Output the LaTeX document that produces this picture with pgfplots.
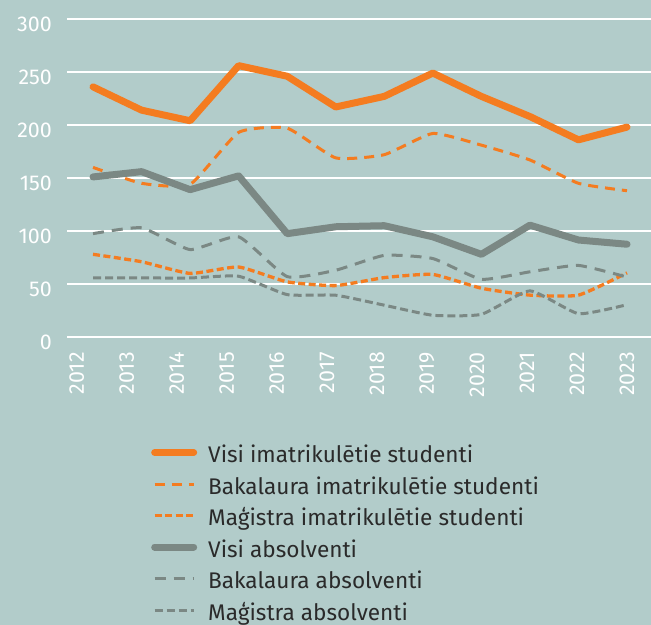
\documentclass[border=0pt]{standalone}
\usepackage{pgfplots}
\pgfplotsset{compat=1.18}
\usepackage{fontspec}
\setmainfont{Fira Sans}
\definecolor{bgc}{HTML}{B2CCCA}
\definecolor{oran}{HTML}{F47C20}
\definecolor{gre}{HTML}{7B8884}
\definecolor{txt}{HTML}{2A2A2A}
\begin{document}
\begin{tikzpicture}
\fill[bgc] (0,0) rectangle (651bp,625bp);
\begin{axis}[
  at={(67bp,288bp)}, anchor=south west,
  scale only axis, width=584bp, height=318bp,
  xmin=2011.464, xmax=2023.494, ymin=0, ymax=300,
  axis line style={draw=none}, tick style={draw=none},
  ytick={0,50,100,150,200,250,300},
  yticklabels={0,50,100,150,200,250,300},
  ymajorgrids,
  grid style={white, line width=1.4bp},
  xtick={2011.664,2012.695,2013.725,2014.756,2015.786,2016.817,2017.847,2018.878,2019.908,2020.939,2021.969,2023.000},
  xticklabels={2012,2013,2014,2015,2016,2017,2018,2019,2020,2021,2022,2023},
  tick label style={white, font=\fontsize{21.5}{25}\selectfont},
  /pgf/number format/assume math mode=true,
  yticklabel style={anchor=east, inner sep=0pt, xshift=-15bp, yshift=-5bp},
  xticklabel style={rotate=90, anchor=east, inner sep=0pt},
  xticklabel shift=15bp,
  clip=false,
  legend style={at={(rel axis cs:0.1438,-0.35)}, anchor=north west, draw=none, fill=none,
    text=txt, inner sep=0pt, row sep=13.5bp, font=\fontsize{22.7}{26}\selectfont,
    nodes={inner sep=0pt, text height=14bp, text depth=4bp}},
  legend cell align=left,
  legend image code/.code={\draw[#1] (0bp,5bp) -- (39bp,5bp); \path (50bp,5bp);},
]
\addplot[oran, line width=7bp, line join=round, line cap=round] coordinates {
(2012,236) (2013,214) (2014,204) (2015,256) (2016,246) (2017,217)
(2018,227) (2019,249) (2020,227) (2021,208) (2022,186) (2023,198)};
\addlegendentry{Visi imatrikulētie studenti}
\addplot[oran, line width=3bp, dash pattern=on 10bp off 7bp, smooth, tension=0.3] coordinates {
(2012,160) (2013,145) (2014,144) (2015,193) (2016,197) (2017,169)
(2018,172) (2019,192) (2020,181) (2021,167) (2022,145) (2023,138)};
\addlegendentry{Bakalaura imatrikulētie studenti}
\addplot[oran, line width=3.3bp, dash pattern=on 7bp off 3.5bp, smooth, tension=0.3] coordinates {
(2012,78) (2013,71) (2014,60) (2015,66) (2016,52) (2017,48.5)
(2018,56) (2019,59) (2020,46) (2021,39.5) (2022,39.5) (2023,60.5)};
\addlegendentry{Maģistra imatrikulētie studenti}
\addplot[gre, line width=7bp, line join=round, line cap=round] coordinates {
(2012,151) (2013,156) (2014,139) (2015,152) (2016,97.5) (2017,104)
(2018,105) (2019,94.5) (2020,78) (2021,105.5) (2022,91.5) (2023,87.5)};
\addlegendentry{Visi absolventi}
\addplot[gre, line width=3bp, dash pattern=on 11bp off 8bp, smooth, tension=0.3] coordinates {
(2012,97.5) (2013,103) (2014,82.5) (2015,94.5) (2016,57) (2017,63)
(2018,77) (2019,74) (2020,54.5) (2021,61.5) (2022,67.5) (2023,56.5)};
\addlegendentry{Bakalaura absolventi}
\addplot[gre, line width=3bp, dash pattern=on 8bp off 4bp, smooth, tension=0.3] coordinates {
(2012,55.7) (2013,55.7) (2014,55.7) (2015,57.3) (2016,40) (2017,39.4)
(2018,30) (2019,20.5) (2020,21.4) (2021,43.5) (2022,22) (2023,30.5)};
\addlegendentry{Maģistra absolventi}
\end{axis}
\pgfresetboundingbox
\useasboundingbox (0,0) rectangle (651bp,625bp);
\end{tikzpicture}
\end{document}
